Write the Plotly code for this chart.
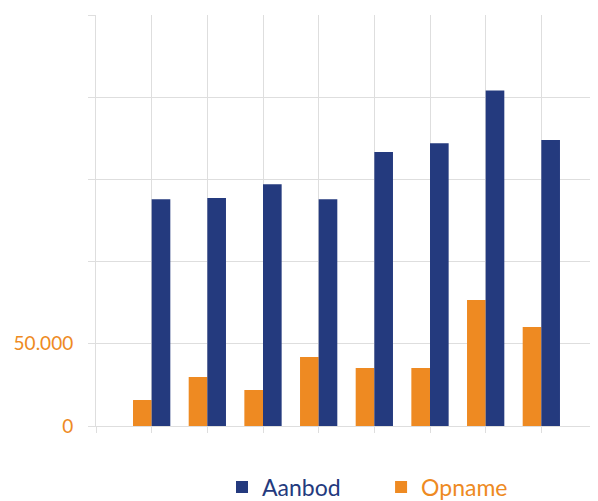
import plotly.graph_objects as go

categories = [0, 1, 2, 3, 4, 5, 6, 7]
aanbod = [138000, 138700, 147000, 138000, 166700, 172000, 204000, 174000]
opname = [15800, 29800, 21900, 42000, 35300, 35300, 76600, 60200]
ytick_vals = [0, 50000, 100000, 150000, 200000, 250000]
ytick_text = ["0", "50.000", "", "", "", ""]

BLUE = "#243A7E"
ORANGE = "#EE8A22"
GRID = "#DEDEDE"
FONT = "Lato"

fig = go.Figure()
fig.add_trace(go.Bar(x=categories, y=opname, name="Opname", marker_color=ORANGE,
                     marker_line_width=0, legend="legend2"))
fig.add_trace(go.Bar(x=categories, y=aanbod, name="Aanbod", marker_color=BLUE,
                     marker_line_width=0, legend="legend"))

leg_common = dict(orientation="h", xanchor="left", y=-0.096, yanchor="top",
                  bgcolor="rgba(0,0,0,0)", itemclick=False)

# page body has an 8px default margin, so the figure is sized/offset to compensate
fig.update_layout(
    width=590, height=493,
    margin=dict(l=88, r=1, t=7, b=75, autoexpand=False),
    paper_bgcolor="white", plot_bgcolor="white",
    barmode="group", bargap=0.33, bargroupgap=0,
    font=dict(family=FONT),
    showlegend=True,
    legend=dict(x=0.2515, font=dict(size=23, family=FONT, color=BLUE), **leg_common),
    legend2=dict(x=0.569, font=dict(size=23, family=FONT, color=ORANGE), **leg_common),
    xaxis=dict(range=[-1, 8], tickmode="linear", tick0=-1, dtick=1,
               showticklabels=False, showgrid=True, gridcolor=GRID, gridwidth=1,
               ticks="outside", ticklen=6, tickcolor=GRID, automargin=False,
               showline=True, linecolor=GRID, linewidth=1, zeroline=False),
    yaxis=dict(range=[0, 250000], tickmode="array", tickvals=ytick_vals, ticktext=ytick_text,
               showgrid=True, gridcolor=GRID, gridwidth=1, automargin=False,
               ticks="outside", ticklen=7, tickcolor=GRID, ticklabelstandoff=11,
               tickfont=dict(size=19, color=ORANGE, family=FONT),
               showline=True, linecolor=GRID, linewidth=1, zeroline=False),
)

fig.write_html("out.html")
